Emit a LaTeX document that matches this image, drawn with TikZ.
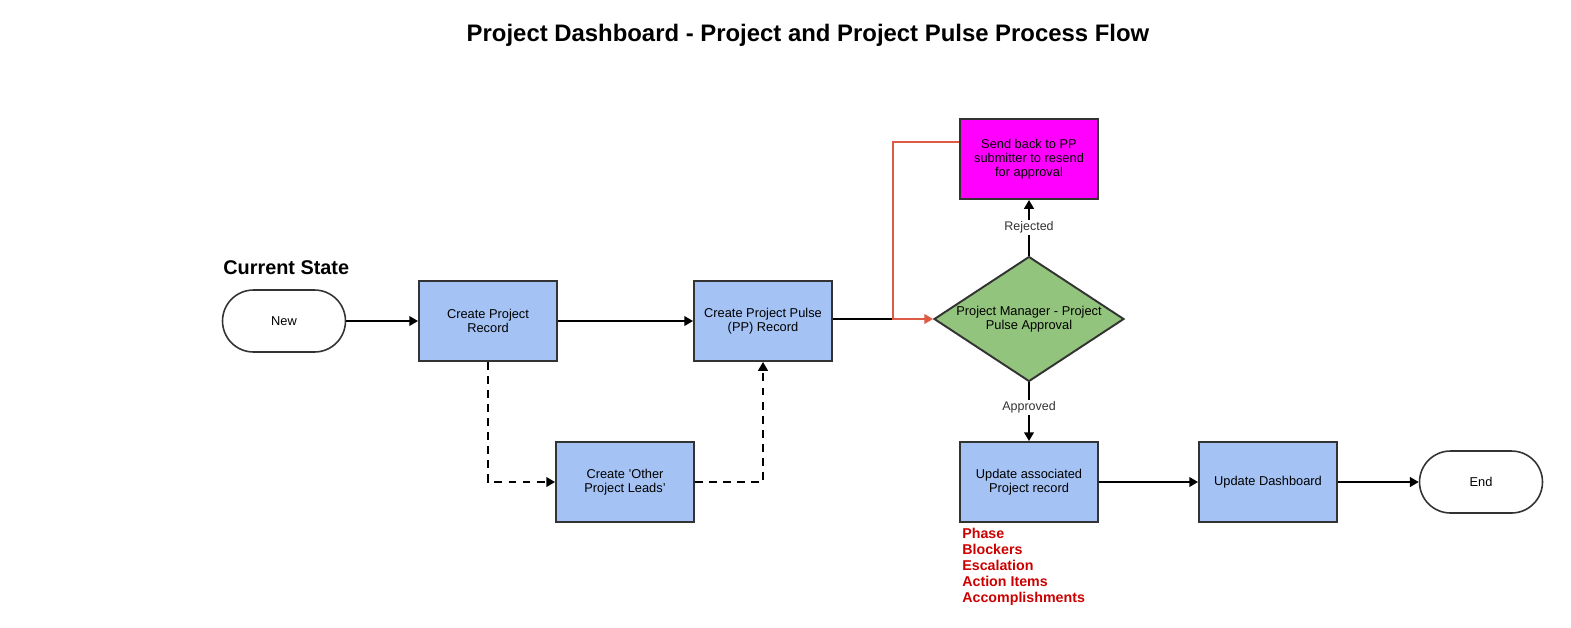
\documentclass[tikz,border=0pt]{standalone}
\usepackage{fontspec}
\setmainfont{Liberation Sans}
\usetikzlibrary{shapes.geometric,arrows.meta}
\definecolor{boxblue}{HTML}{A4C2F4}
\definecolor{boxline}{HTML}{333333}
\definecolor{decgreen}{HTML}{93C47D}
\definecolor{sendpink}{HTML}{FF00FF}
\definecolor{backred}{HTML}{DD5A44}
\definecolor{notered}{HTML}{CC0000}

\begin{document}
\begin{tikzpicture}[x=0.02cm, y=-0.02cm,
    box/.style={draw=boxline, line width=1.1pt, fill=boxblue, minimum width=2.76cm, minimum height=1.6cm, align=center, inner sep=0pt, font=\fontsize{7.3}{8}\selectfont},
    term/.style={draw=boxline, line width=0.9pt, fill=white, rounded corners=0.62cm, minimum width=2.46cm, minimum height=1.24cm, font=\fontsize{7.3}{8}\selectfont},
    flow/.style={line width=1.1pt, -{Triangle[length=5pt,width=5.5pt]}},
    lbl/.style={fill=white, inner sep=1pt, text=boxline, font=\fontsize{7.1}{8}\selectfont}]
    \useasboundingbox (0,0) rectangle (1571,627);
    \node[font=\bfseries\fontsize{13.6}{16}\selectfont] (title) at (808,35) {Project Dashboard - Project and Project Pulse Process Flow};
    \node[anchor=west, inner sep=0pt, font=\bfseries\fontsize{11.3}{13}\selectfont] (state) at (223,268) {Current State};
    % top row
    \node[term] (new) at (284,321) {New};
    \node[box] (record) at (488,321) {Create Project\\Record};
    \node[box] (pulse) at (763,321) {Create Project Pulse\\(PP) Record};
    \node[diamond, draw=boxline, line width=1.1pt, fill=decgreen, shape aspect=1.55, inner sep=0pt, minimum width=3.8cm, minimum height=2.5cm, align=center, font=\fontsize{7.3}{8}\selectfont] (approval) at (1029,319) {Project Manager - Project\\Pulse Approval};
    \node[box, fill=sendpink] (sendback) at (1029,159) {Send back to PP\\submitter to resend\\for approval};
    % bottom row
    \node[box] (leads) at (625,482) {Create 'Other\\Project Leads'};
    \node[box] (update) at (1029,482) {Update associated\\Project record};
    \node[box] (dash) at (1268,482) {Update Dashboard};
    \node[term] (end) at (1481,482) {End};
    \node[anchor=north west, align=left, inner sep=0pt, text=notered, font=\bfseries\fontsize{8.1}{9.07}\selectfont] (fields) at (962,528) {Phase\\Blockers\\Escalation\\Action Items\\Accomplishments};
    % connectors
    \coordinate (join) at (893,319);
    \draw[flow] (new) -- (record);
    \draw[flow] (record) -- (pulse);
    \draw[line width=1.1pt] (pulse.east |- join) -- (join);
    \draw[flow, dash pattern=on 4.5pt off 3.5pt] (record.south) |- (leads.west);
    \draw[flow, dash pattern=on 4.5pt off 3.5pt] (leads.east) -| (pulse.south);
    \draw[line width=1.1pt, backred, -{Triangle[length=5pt,width=5.5pt]}] (sendback.west |- 0,142) -| (join) -- (approval.west);
    \draw[flow] (approval.north) -- node[lbl] {Rejected} (sendback.south);
    \draw[flow] (approval.south) -- node[lbl, pos=0.43] {Approved} (update.north);
    \draw[flow] (update) -- (dash);
    \draw[flow] (dash) -- (end);
\end{tikzpicture}
\end{document}
